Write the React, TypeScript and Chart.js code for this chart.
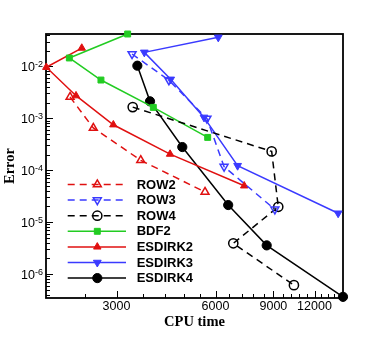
import React, { useEffect, useRef } from 'react';
import { Chart, registerables } from 'chart.js';

Chart.register(...registerables);

// ---- data ----
const row2Cpu = [2167, 2550, 3555, 5575];
const row2Err = [2.56e-3, 6.5e-4, 1.55e-4, 3.8e-5];
const row3Cpu = [3345, 4330, 5650, 6370, 9090];
const row3Err = [1.73e-2, 5.4e-3, 0.99e-3, 1.17e-4, 1.76e-5];
const row4Cpu = [3360, 8890, 9310, 6795, 10390];
const row4Err = [1.64e-3, 2.3e-4, 1.97e-5, 3.9e-6, 6.1e-7];
const bdf2Cpu = [3243, 2156, 2690, 3882, 5680];
const bdf2Err = [4.2e-2, 1.45e-2, 5.45e-3, 1.62e-3, 4.28e-4];
const esdirk2Cpu = [2352, 1835, 2259, 2934, 4365, 7335];
const esdirk2Err = [2.25e-2, 9.6e-3, 2.72e-3, 7.5e-4, 2.04e-4, 5.0e-5];
const esdirk3Cpu = [6117, 3645, 4383, 5536, 7004, 14160];
const esdirk3Err = [3.62e-2, 1.86e-2, 5.62e-3, 1.04e-3, 1.22e-4, 1.48e-5];
const esdirk4Cpu = [3471, 3793, 4755, 6557, 8586, 14650];
const esdirk4Err = [1.03e-2, 2.12e-3, 2.79e-4, 2.13e-5, 3.56e-6, 3.63e-7];

const xMajorTicks = [3000, 6000, 9000, 12000];
const xMinorTicks = [2400, 3600, 4200, 4800, 5400, 6600, 7200, 7800, 8400, 9600, 10200, 10800, 11400, 12600, 13200, 13800, 14400];
const yMajorExponents = [-2, -3, -4, -5, -6];

const X_MIN = 1831;
const X_MAX = 14650;
const Y_MIN = 3.45e-7;
const Y_MAX = 4.2e-2;

const RED = '#e01010';
const BLUE = '#3a3aff';
const GREEN = '#22cc22';
const BLACK = '#000000';

const pts = (xs: number[], ys: number[]) => xs.map((x, i) => ({ x, y: ys[i] }));

function drawMarker(ctx: CanvasRenderingContext2D, style: string, x: number, y: number, r: number, rotDeg: number, fill: string, stroke: string, lw: number) {
  ctx.save();
  ctx.setLineDash([]);
  ctx.beginPath();
  if (style === 'circle') {
    ctx.arc(x, y, r, 0, Math.PI * 2);
  } else if (style === 'rect') {
    const s = r * Math.SQRT1_2;
    ctx.rect(x - s, y - s, 2 * s, 2 * s);
  } else {
    let rad = (rotDeg * Math.PI) / 180;
    ctx.moveTo(x + Math.sin(rad) * r, y - Math.cos(rad) * r);
    rad += (2 * Math.PI) / 3;
    ctx.lineTo(x + Math.sin(rad) * r, y - Math.cos(rad) * r);
    rad += (2 * Math.PI) / 3;
    ctx.lineTo(x + Math.sin(rad) * r, y - Math.cos(rad) * r);
    ctx.closePath();
  }
  ctx.fillStyle = fill;
  ctx.fill();
  ctx.strokeStyle = stroke;
  ctx.lineWidth = lw;
  ctx.stroke();
  ctx.restore();
}

const decorPlugin = {
  id: 'decor',
  beforeDatasetsDraw(chart: any) {
    const { ctx, chartArea: a, scales } = chart;
    ctx.save();
    ctx.strokeStyle = '#000';
    ctx.lineWidth = 1;
    ctx.beginPath();
    // y ticks (inward)
    for (const e of yMajorExponents.concat([-7])) {
      for (let m = 1; m <= 9; m++) {
        const v = m * Math.pow(10, e);
        if (v < Y_MIN || v > Y_MAX) continue;
        const py = Math.round(scales.y.getPixelForValue(v)) + 0.5;
        const len = m === 1 ? 7 : 4;
        ctx.moveTo(a.left, py);
        ctx.lineTo(a.left + len, py);
      }
    }
    // x ticks (inward)
    for (const v of xMajorTicks) {
      const px = Math.round(scales.x.getPixelForValue(v)) + 0.5;
      ctx.moveTo(px, a.bottom);
      ctx.lineTo(px, a.bottom - 7);
    }
    for (const v of xMinorTicks) {
      const px = Math.round(scales.x.getPixelForValue(v)) + 0.5;
      ctx.moveTo(px, a.bottom);
      ctx.lineTo(px, a.bottom - 4);
    }
    ctx.stroke();
    // frame
    ctx.lineWidth = 1.8;
    ctx.strokeRect(a.left, a.top, a.right - a.left, a.bottom - a.top);
    ctx.restore();
  },
  afterDraw(chart: any) {
    const { ctx, chartArea: a, scales } = chart;
    ctx.save();
    // y tick labels with superscript exponents
    ctx.fillStyle = '#000';
    ctx.textAlign = 'right';
    ctx.textBaseline = 'alphabetic';
    for (const e of yMajorExponents) {
      const py = scales.y.getPixelForValue(Math.pow(10, e));
      const exp = String(e);
      ctx.font = '9px "Liberation Sans", Arial, sans-serif';
      const ew = ctx.measureText(exp).width;
      const right = a.left - 3;
      ctx.fillText(exp, right, py + 0.5);
      ctx.font = '12.5px "Liberation Sans", Arial, sans-serif';
      ctx.fillText('10', right - ew, py + 4.5);
    }
    // legend
    const datasets = chart.data.datasets;
    const x0 = 67.7, x1 = 126, xm = 97.3, xt = 136.7;
    const yStart = 184.5, dy = 15.6;
    datasets.forEach((ds: any, i: number) => {
      const y = yStart + i * dy;
      ctx.save();
      ctx.strokeStyle = ds.borderColor;
      ctx.lineWidth = ds.borderWidth;
      ctx.setLineDash(ds.borderDash || []);
      ctx.beginPath();
      ctx.moveTo(x0, y);
      ctx.lineTo(x1, y);
      ctx.stroke();
      ctx.restore();
      drawMarker(ctx, ds.pointStyle, xm, y, ds.pointRadius, ds.pointRotation || 0, ds.pointBackgroundColor, ds.pointBorderColor, ds.pointBorderWidth);
      ctx.fillStyle = '#000';
      ctx.font = 'bold 13px "Liberation Sans", Arial, sans-serif';
      ctx.textAlign = 'left';
      ctx.textBaseline = 'middle';
      ctx.fillText(ds.label, xt, y + 0.5);
    });
    ctx.restore();
  },
};

function makeDataset(label: string, data: any[], color: string, style: string, r: number, rot: number, filled: boolean, dashed: boolean) {
  return {
    label,
    data,
    showLine: true,
    borderColor: color,
    borderWidth: 1.5,
    borderDash: dashed ? [7, 5] : [],
    pointStyle: style,
    pointRadius: r,
    pointRotation: rot,
    pointBackgroundColor: filled ? color : 'rgba(0,0,0,0)',
    pointBorderColor: color,
    pointBorderWidth: filled ? 1 : 1.5,
    pointHoverRadius: r,
    clip: false as any,
  };
}

export default function App() {
  const ref = useRef<HTMLCanvasElement | null>(null);
  useEffect(() => {
    if (!ref.current) return;
    const chart = new Chart(ref.current, {
      type: 'scatter',
      data: {
        datasets: [
          makeDataset('ROW2', pts(row2Cpu, row2Err), RED, 'triangle', 4.6, 0, false, true),
          makeDataset('ROW3', pts(row3Cpu, row3Err), BLUE, 'triangle', 4.6, 180, false, true),
          makeDataset('ROW4', pts(row4Cpu, row4Err), BLACK, 'circle', 4.6, 0, false, true),
          makeDataset('BDF2', pts(bdf2Cpu, bdf2Err), GREEN, 'rect', 4.2, 0, true, false),
          makeDataset('ESDIRK2', pts(esdirk2Cpu, esdirk2Err), RED, 'triangle', 4.3, 0, true, false),
          makeDataset('ESDIRK3', pts(esdirk3Cpu, esdirk3Err), BLUE, 'triangle', 4.5, 180, true, false),
          makeDataset('ESDIRK4', pts(esdirk4Cpu, esdirk4Err), BLACK, 'circle', 4.6, 0, true, false),
        ] as any,
      },
      options: {
        responsive: false,
        animation: false,
        devicePixelRatio: 1,
        layout: { padding: { top: 34, right: 39, bottom: 0, left: 0 } },
        plugins: {
          legend: { display: false },
          tooltip: { enabled: false },
        },
        scales: {
          x: {
            type: 'logarithmic',
            min: X_MIN,
            max: X_MAX,
            grid: { display: false, drawTicks: false },
            border: { display: false },
            afterBuildTicks: (s: any) => {
              s.ticks = xMajorTicks.map((value) => ({ value }));
            },
            afterFit: (s: any) => {
              s.height = 41;
            },
            ticks: {
              autoSkip: false,
              maxRotation: 0,
              padding: 1,
              color: '#000',
              font: { family: '"Liberation Sans", Arial, sans-serif', size: 12.5 },
              callback: (v: any) => String(v),
            },
            title: {
              display: true,
              text: 'CPU time',
              color: '#000',
              font: { family: '"Liberation Serif", "Times New Roman", serif', weight: 'bold', size: 14.5 },
              padding: { top: 0, bottom: 7.8 },
            },
          },
          y: {
            type: 'logarithmic',
            min: Y_MIN,
            max: Y_MAX,
            grid: { display: false, drawTicks: false },
            border: { display: false },
            ticks: { display: false },
            afterFit: (s: any) => {
              s.width = 46;
            },
            title: {
              display: true,
              text: 'Error',
              color: '#000',
              font: { family: '"Liberation Serif", "Times New Roman", serif', weight: 'bold', size: 14.5 },
              padding: { top: 1.3, bottom: 0 },
            },
          },
        },
      } as any,
      plugins: [decorPlugin],
    });
    return () => chart.destroy();
  }, []);
  return (
    <div style={{ position: 'absolute', left: 0, top: 0, width: 382, height: 339 }}>
      <canvas ref={ref} width={382} height={339} style={{ display: 'block', width: 382, height: 339 }} />
    </div>
  );
}
